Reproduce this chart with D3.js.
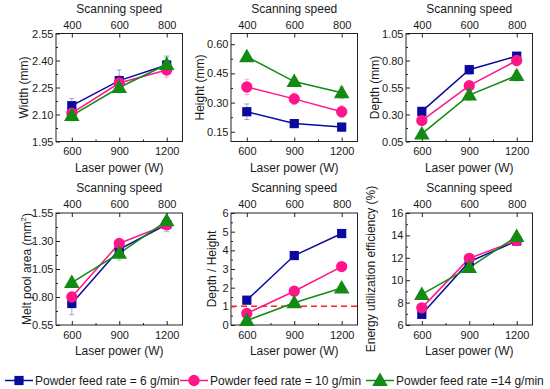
<!DOCTYPE html>
<html><head><meta charset="utf-8">
<script src="https://cdn.jsdelivr.net/npm/d3@7"></script>
<style>
body{margin:0;background:#fff;}
text{font-family:"Liberation Sans",Arial,sans-serif;fill:#1a1a1a;}
</style></head>
<body><svg id="c" width="550" height="389"></svg>
<script>
// ---- data ----
const laserPower = [600, 900, 1200];
const scanSpeed = [400, 600, 800];
const seriesNames = ["Powder feed rate = 6 g/min", "Powder feed rate = 10 g/min", "Powder feed rate =14 g/min"];
const seriesColors = ["#0a0a9e", "#ff1489", "#138a13"];

const widthVals = [[2.149, 2.288, 2.375], [2.107, 2.275, 2.347], [2.094, 2.250, 2.378]];
const widthErr  = [[0.04, 0.06, 0.05], [0.03, 0.04, 0.04], [0.03, 0.03, 0.04]];
const heightVals = [[0.253, 0.192, 0.174], [0.380, 0.319, 0.253], [0.536, 0.408, 0.350]];
const heightErr  = [[0.04, 0.02, 0.02], [0.04, 0.03, 0.03], [0.02, 0.02, 0.03]];
const depthVals = [[0.329, 0.715, 0.840], [0.244, 0.567, 0.800], [0.120, 0.480, 0.660]];
const depthErr  = [[0.03, 0.04, 0.03], [0.03, 0.04, 0.03], [0.03, 0.05, 0.05]];
const areaVals = [[0.742, 1.225, 1.447], [0.800, 1.278, 1.446], [0.929, 1.190, 1.480]];
const areaErr  = [[0.10, 0.04, 0.06], [0.03, 0.03, 0.03], [0.04, 0.06, 0.03]];
const ratioVals = [[1.33, 3.72, 4.90], [0.62, 1.81, 3.13], [0.24, 1.19, 1.98]];
const effVals = [[6.95, 11.65, 13.50], [7.53, 11.95, 13.54], [8.73, 11.13, 13.90]];

const widthTicks = [1.95, 2.10, 2.25, 2.40, 2.55];
const heightTicks = [0.15, 0.30, 0.45, 0.60];
const depthTicks = [0.05, 0.30, 0.55, 0.80, 1.05];
const areaTicks = [0.55, 0.80, 1.05, 1.30, 1.55];
const ratioTicks = [0, 1, 2, 3, 4, 5, 6];
const effTicks = [6, 8, 10, 12, 14, 16];

const panels = [
  {vals: widthVals, err: widthErr, dom: [1.95, 2.55], ticks: widthTicks, fmt: ".2f", title: "Width (mm)", left: 56, top: 33.5, bottom: 141.5, ttl: -33},
  {vals: heightVals, err: heightErr, dom: [0.10, 0.655], ticks: heightTicks, fmt: ".2f", title: "Height (mm)", left: 231, top: 33.5, bottom: 141.5, ttl: -32},
  {vals: depthVals, err: depthErr, dom: [0.05, 1.05], ticks: depthTicks, fmt: ".2f", title: "Depth (mm)", left: 406, top: 33.5, bottom: 141.5, ttl: -32},
  {vals: areaVals, err: areaErr, dom: [0.55, 1.55], ticks: areaTicks, fmt: ".2f", title: "Melt pool area (mm", sup: "2", left: 56, top: 213, bottom: 325, ttl: -30},
  {vals: ratioVals, err: null, dom: [0, 6], ticks: ratioTicks, fmt: "d", title: "Depth / Height", left: 231, top: 213, bottom: 325, ttl: -20, refLine: 1},
  {vals: effVals, err: null, dom: [6, 16], ticks: effTicks, fmt: "d", title: "Energy utilization efficiency (%)", left: 406, top: 213, bottom: 325, ttl: -36}
];

const svg = d3.select("#c");
const pw = 126.5;
const markerSym = [d3.symbolSquare, d3.symbolCircle, d3.symbolTriangle];
const markerSize = [85, 100, 105];

function drawMarker(g, i, x, y) {
  const yo = i === 2 ? 1 : 0;
  g.append("path")
    .attr("d", d3.symbol().type(markerSym[i]).size(markerSize[i])())
    .attr("transform", `translate(${x},${y + yo})`)
    .attr("fill", seriesColors[i]);
}

panels.forEach(p => {
  const x = d3.scaleLinear().domain([500, 1300]).range([p.left, p.left + pw]);
  const y = d3.scaleLinear().domain(p.dom).range([p.bottom, p.top]);
  const g = svg.append("g");

  // frame
  g.append("rect").attr("x", p.left).attr("y", p.top).attr("width", pw).attr("height", p.bottom - p.top)
    .attr("fill", "none").attr("stroke", "#222").attr("stroke-width", 1);

  // bottom axis
  const xb = d3.axisBottom(x).tickValues(laserPower).tickSize(-4).tickPadding(6).tickFormat(d3.format("d"));
  g.append("g").attr("transform", `translate(0,${p.bottom})`).call(xb);
  const xbm = d3.axisBottom(x).tickValues([750, 1050]).tickSize(-2).tickFormat("");
  g.append("g").attr("transform", `translate(0,${p.bottom})`).call(xbm);
  // top axis
  const xt = d3.axisTop(x).tickValues(laserPower).tickSize(-4).tickPadding(5)
    .tickFormat((d, i) => scanSpeed[i]);
  g.append("g").attr("transform", `translate(0,${p.top})`).call(xt);
  // left axis
  const yl = d3.axisLeft(y).tickValues(p.ticks).tickSize(-4).tickPadding(2.5).tickFormat(d3.format(p.fmt));
  g.append("g").attr("transform", `translate(${p.left},0)`).call(yl);
  const minor = [];
  for (let k = 0; k < p.ticks.length - 1; k++) minor.push((p.ticks[k] + p.ticks[k + 1]) / 2);
  g.append("g").attr("transform", `translate(${p.left},0)`).call(d3.axisLeft(y).tickValues(minor).tickSize(-2).tickFormat(""));

  g.selectAll(".domain").remove();
  g.selectAll(".tick line").attr("stroke", "#222");
  g.selectAll(".tick text").attr("font-size", 11).attr("fill", "#1a1a1a")
    .attr("font-family", "Liberation Sans, Arial, sans-serif");

  // axis titles
  g.append("text").attr("x", p.left + pw / 2).attr("y", p.top - 21).attr("text-anchor", "middle")
    .attr("font-size", 12).text("Scanning speed");
  g.append("text").attr("x", p.left + pw / 2).attr("y", p.bottom + 30).attr("text-anchor", "middle")
    .attr("font-size", 12).text("Laser power (W)");
  const yt = g.append("text")
    .attr("transform", `translate(${p.left + p.ttl + 4.5},${(p.top + p.bottom) / 2}) rotate(-90)`)
    .attr("text-anchor", "middle").attr("font-size", 12).text(p.title);
  if (p.sup) {
    yt.append("tspan").attr("font-size", 8).attr("dy", -5).text(p.sup);
    yt.append("tspan").attr("font-size", 12).attr("dy", 5).text(")");
  }

  // reference line
  if (p.refLine !== undefined) {
    g.append("line").attr("x1", p.left).attr("x2", p.left + pw).attr("y1", y(p.refLine)).attr("y2", y(p.refLine))
      .attr("stroke", "#ff2020").attr("stroke-width", 1.5).attr("stroke-dasharray", "6,4");
  }

  // error bars
  if (p.err) {
    p.vals.forEach((vals, si) => {
      vals.forEach((v, j) => {
        const e = p.err[si][j];
        const cx = x(laserPower[j]);
        const eg = g.append("g").attr("stroke", seriesColors[si]).attr("stroke-opacity", 0.35).attr("stroke-width", 1);
        eg.append("line").attr("x1", cx).attr("x2", cx).attr("y1", y(v - e)).attr("y2", y(v + e));
        eg.append("line").attr("x1", cx - 2.5).attr("x2", cx + 2.5).attr("y1", y(v - e)).attr("y2", y(v - e));
        eg.append("line").attr("x1", cx - 2.5).attr("x2", cx + 2.5).attr("y1", y(v + e)).attr("y2", y(v + e));
      });
    });
  }

  // lines then markers
  const line = d3.line().x((d, j) => x(laserPower[j])).y(d => y(d));
  p.vals.forEach((vals, si) => {
    g.append("path").attr("d", line(vals)).attr("fill", "none")
      .attr("stroke", seriesColors[si]).attr("stroke-width", 1.5);
  });
  p.vals.forEach((vals, si) => {
    vals.forEach((v, j) => drawMarker(g, si, x(laserPower[j]), y(v)));
  });
});

// legend
const legX = [5, 180, 366];
const legY = 380.5;
seriesNames.forEach((name, i) => {
  const lg = svg.append("g");
  lg.append("line").attr("x1", legX[i]).attr("x2", legX[i] + 28).attr("y1", legY).attr("y2", legY)
    .attr("stroke", seriesColors[i]).attr("stroke-width", 1.5);
  drawMarker(lg, i, legX[i] + 14, legY);
  lg.append("text").attr("x", legX[i] + 30).attr("y", legY + 4.5).attr("font-size", 12).text(name);
});
</script></body></html>
